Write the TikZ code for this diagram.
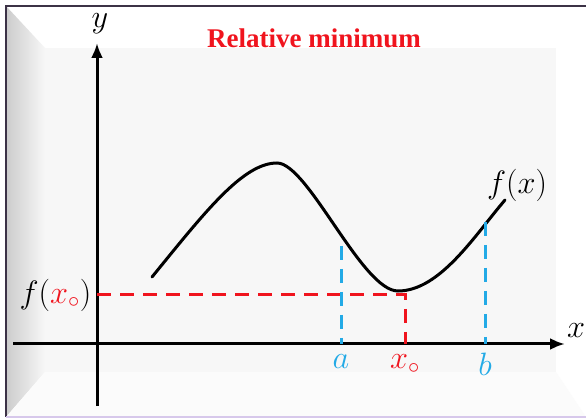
\documentclass[tikz,border=0pt]{standalone}
\usepackage{fontspec}
\setmainfont{Liberation Serif}
\usepackage{amsmath}
\definecolor{minred}{RGB}{240,20,30}
\definecolor{minblue}{RGB}{35,170,230}
\definecolor{rimdark}{RGB}{60,50,70}
\definecolor{rimlight}{RGB}{215,200,235}
\definecolor{facegray}{RGB}{247,247,247}
\usetikzlibrary{arrows.meta,positioning,calc}

\begin{document}
\begin{tikzpicture}[x=1pt, y=-1pt,
  axis/.style={line width=3pt, -{Latex[length=15pt,width=12pt]}},
  guide/.style={line width=3pt, dash pattern=on 14pt off 9pt},
  lbl/.style={font=\fontsize{24.88}{28}\selectfont, scale=1.3, inner sep=1pt}]
\useasboundingbox (0,0) rectangle (586,419);

% --- bevelled frame ---
\fill[white] (0,0) rectangle (586,419);
\shade[left color=gray!40, right color=gray!6] (6,6) -- (45,48) -- (45,372) -- (6,417) -- cycle;
\fill[gray!3] (6,417) -- (45,372) -- (556,372) -- (586,417) -- cycle;
\fill[facegray] (45,48) rectangle (556,372);
\draw[rimdark, line width=2pt] (586,6) -- (6,6) -- (6,417);
\draw[rimlight, line width=2pt] (6,417) -- (586,417);

% --- title ---
\node[font=\fontsize{27}{30}\selectfont\bfseries, text=minred] (title) at (314,38) {Relative minimum};

% --- axes ---
\coordinate (xstart) at (13,344);
\coordinate (xend) at (565,344);
\coordinate (ystart) at (97,406);
\coordinate (yend) at (97,43);
\draw[axis] (xstart) -- (xend);
\draw[axis] (ystart) -- (yend);
\node[lbl] (xlab) at (576,331) {$x$};
\node[lbl] (ylab) at (100,24) {$y$};

% --- curve ---
\coordinate (cstart) at (152,277);
\coordinate (cpeak) at (277,163);
\coordinate (cmin) at (398,291);
\coordinate (cend) at (505,200);
\draw[line width=3pt, line cap=round] (cstart)
  .. controls (205,212) and (243,163) .. (cpeak)
  .. controls (308,163) and (362,291) .. (cmin)
  .. controls (440,291) and (475,235) .. (cend);
\node[lbl] (fx) at (517,185) {$f(x)$};

% --- guide lines ---
\coordinate (fxo) at (97,295);
\coordinate (mincorner) at (405,295);
\coordinate (xo) at (405,344);
\coordinate (atop) at (341,246);
\coordinate (afoot) at (341,344);
\coordinate (btop) at (485,222);
\coordinate (bfoot) at (485,344);
\draw[guide, minred] (fxo) -- (mincorner) -- (xo);
\draw[guide, minblue] (atop) -- (afoot);
\draw[guide, minblue] (btop) -- (bfoot);

% --- labels ---
\node[lbl, left=4pt of fxo] (fxolab) {$f(\textcolor{minred}{x_{\scriptscriptstyle\circ}})$};
\node[lbl, text=minblue, below=9pt of afoot] (alab) {$a$};
\node[lbl, text=minred, below=9pt of xo] (xolab) {$x_{\scriptscriptstyle\circ}$};
\node[lbl, text=minblue, below=7pt of bfoot] (blab) {$b$};

\end{tikzpicture}
\end{document}
